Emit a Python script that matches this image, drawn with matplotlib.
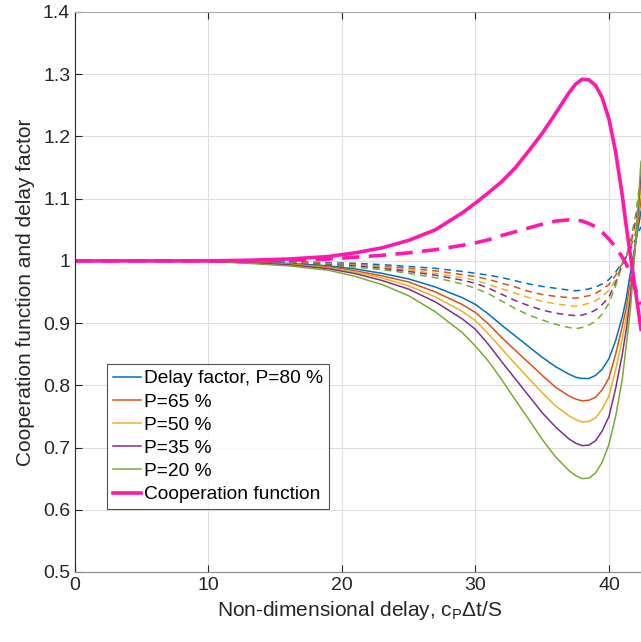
import matplotlib
matplotlib.use('Agg')
import matplotlib.pyplot as plt

plt.rcParams['font.family'] = ['Liberation Sans', 'DejaVu Sans']
plt.rcParams['mathtext.fontset'] = 'custom'
plt.rcParams['mathtext.rm'] = 'Liberation Sans'
plt.rcParams['mathtext.it'] = 'Liberation Sans'

# non-dimensional delay sample points
x = [0, 5, 10, 13, 16, 19, 21, 23, 25, 27, 29, 30, 31, 32, 33, 34, 35, 36, 37, 37.5, 38, 38.5, 39, 39.5,
     40, 40.5, 41, 41.3, 41.6, 42, 42.4]

# delay factor, solid
delay_80 = [1.0, 1.0, 0.9995, 0.998, 0.996, 0.992, 0.987, 0.980, 0.971, 0.958, 0.941, 0.930, 0.914, 0.896,
            0.879, 0.862, 0.845, 0.830, 0.818, 0.813, 0.811, 0.811, 0.816, 0.826,
            0.843, 0.872, 0.910, 0.940, 0.980, 1.030, 1.080]
delay_65 = [1.0, 1.0, 0.9994, 0.9976, 0.995, 0.9905, 0.984, 0.976, 0.966, 0.950, 0.930, 0.917, 0.898, 0.876,
            0.856, 0.836, 0.816, 0.797, 0.783, 0.778, 0.775, 0.776, 0.781, 0.793,
            0.812, 0.850, 0.895, 0.925, 0.965, 1.030, 1.100]
delay_50 = [1.0, 1.0, 0.9993, 0.997, 0.9945, 0.989, 0.982, 0.9725, 0.960, 0.942, 0.919, 0.904, 0.882, 0.858,
            0.834, 0.811, 0.788, 0.767, 0.751, 0.745, 0.741, 0.742, 0.748, 0.762,
            0.783, 0.825, 0.875, 0.910, 0.953, 1.030, 1.120]
delay_35 = [1.0, 1.0, 0.9992, 0.9969, 0.9938, 0.9875, 0.9795, 0.9685, 0.9546, 0.934, 0.907, 0.890, 0.865, 0.837,
            0.810, 0.783, 0.756, 0.733, 0.714, 0.707, 0.703, 0.704, 0.711, 0.727,
            0.750, 0.795, 0.850, 0.890, 0.940, 1.030, 1.140]
delay_20 = [1.0, 1.0, 0.999, 0.996, 0.992, 0.985, 0.975, 0.962, 0.944, 0.918, 0.885, 0.863, 0.838, 0.808,
            0.776, 0.745, 0.713, 0.685, 0.663, 0.655, 0.650, 0.651, 0.659, 0.677,
            0.705, 0.750, 0.810, 0.865, 0.920, 1.030, 1.160]

# delay factor, dashed
dash_80 = [1.0, 1.0, 1.0, 0.9995, 0.999, 0.997, 0.996, 0.994, 0.991, 0.988, 0.983, 0.980, 0.977, 0.973,
           0.968, 0.963, 0.959, 0.956, 0.953, 0.952, 0.953, 0.955, 0.958, 0.963,
           0.970, 0.982, 0.997, 1.006, 1.018, 1.035, 1.055]
dash_65 = [1.0, 1.0, 1.0, 0.9995, 0.9985, 0.996, 0.994, 0.991, 0.988, 0.984, 0.978, 0.975, 0.970, 0.964,
           0.958, 0.951, 0.946, 0.943, 0.941, 0.940, 0.942, 0.944, 0.948, 0.954,
           0.962, 0.977, 0.996, 1.007, 1.021, 1.045, 1.075]
dash_50 = [1.0, 1.0, 1.0, 0.9995, 0.998, 0.995, 0.993, 0.989, 0.985, 0.980, 0.973, 0.969, 0.962, 0.955,
           0.948, 0.941, 0.935, 0.931, 0.928, 0.927, 0.929, 0.932, 0.936, 0.943,
           0.953, 0.970, 0.995, 1.008, 1.024, 1.055, 1.095]
dash_35 = [1.0, 1.0, 1.0, 0.9995, 0.9975, 0.994, 0.992, 0.988, 0.983, 0.977, 0.969, 0.964, 0.956, 0.946,
           0.936, 0.928, 0.921, 0.916, 0.913, 0.912, 0.913, 0.916, 0.921, 0.930,
           0.942, 0.965, 0.994, 1.008, 1.027, 1.065, 1.115]
dash_20 = [1.0, 1.0, 0.9995, 0.999, 0.997, 0.993, 0.990, 0.986, 0.980, 0.973, 0.963, 0.956, 0.947, 0.935,
           0.923, 0.913, 0.905, 0.898, 0.893, 0.891, 0.893, 0.897, 0.903, 0.915,
           0.932, 0.960, 0.993, 1.009, 1.030, 1.075, 1.140]

# cooperation function
coop = [1.0, 1.0, 1.0, 1.001, 1.003, 1.007, 1.013, 1.021, 1.033, 1.050, 1.077, 1.093, 1.110, 1.128,
        1.150, 1.177, 1.205, 1.237, 1.270, 1.284, 1.292, 1.291, 1.282, 1.262,
        1.228, 1.175, 1.105, 1.055, 1.010, 0.950, 0.890]
coop_dash = [1.0, 1.0, 1.0, 1.0, 1.001, 1.003, 1.006, 1.009, 1.013, 1.018, 1.025, 1.029, 1.034, 1.041,
             1.047, 1.053, 1.059, 1.064, 1.066, 1.066, 1.064, 1.060, 1.055, 1.046,
             1.035, 1.022, 1.006, 0.995, 0.977, 0.953, 0.930]

labels = ['Delay factor, P=80 %', 'P=65 %', 'P=50 %', 'P=35 %', 'P=20 %']
colors = ['#0072BD', '#D95319', '#EDB120', '#7E2F8E', '#77AC30']
solid = [delay_80, delay_65, delay_50, delay_35, delay_20]
dashed = [dash_80, dash_65, dash_50, dash_35, dash_20]
pink = '#FF19AA'

fig = plt.figure(figsize=(6.41, 6.42), dpi=100)
ax = fig.add_axes([75 / 641, 70 / 642, 570 / 641, 560 / 642])

for ys, c in zip(dashed, colors):
    ax.plot(x, ys, color=c, lw=1.1, linestyle=(0, (4.5, 3.3)))
handles = []
for ys, c, lab in zip(solid, colors, labels):
    h, = ax.plot(x, ys, color=c, lw=1.1, label=lab)
    handles.append(h)
ax.plot(x, coop_dash, color=pink, lw=2.6, linestyle=(0, (4.8, 2.6)))
h, = ax.plot(x, coop, color=pink, lw=2.6, label='Cooperation function')
handles.append(h)

ax.set_xlim(0, 42.7)
ax.set_ylim(0.5, 1.4)
ax.set_xticks([0, 10, 20, 30, 40])
ax.set_yticks([0.5, 0.6, 0.7, 0.8, 0.9, 1.0, 1.1, 1.2, 1.3, 1.4])
ax.set_yticklabels(['0.5', '0.6', '0.7', '0.8', '0.9', '1', '1.1', '1.2', '1.3', '1.4'])
ax.grid(True, color='#DDDDDD', lw=0.8)
ax.set_axisbelow(True)
ax.tick_params(direction='in', top=True, length=5, labelsize=14, colors='#262626')
ax.spines['right'].set_visible(False)
ax.spines['top'].set_color('#AAAAAA')
ax.spines['left'].set_color('#262626')
ax.spines['bottom'].set_color('#888888')

ax.set_xlabel('Non-dimensional delay, c$_\\mathrm{P}$$\\Delta$t/S', fontsize=15, color='#262626', labelpad=4)
ax.set_ylabel('Cooperation function and delay factor', fontsize=15, color='#262626', labelpad=6)

leg = ax.legend(handles=handles, loc='lower left', bbox_to_anchor=(0.056, 0.1125),
                borderaxespad=0, fontsize=13.8, frameon=True, fancybox=False,
                handlelength=1.5, handletextpad=0.15, labelspacing=0.3,
                borderpad=0.3, edgecolor='#262626')
leg.get_frame().set_linewidth(0.8)

fig.savefig('out.png', dpi=100)
